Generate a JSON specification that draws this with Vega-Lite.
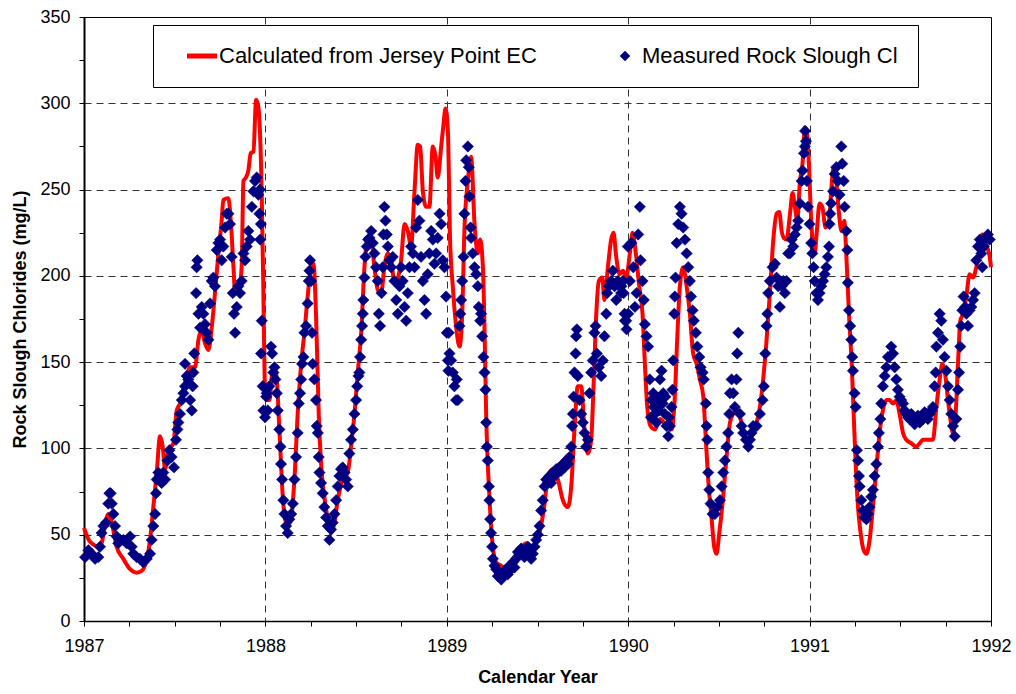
{
"$schema": "https://vega.github.io/schema/vega-lite/v6.json",
"width": 907, "height": 604,
"autosize": "none",
"padding": {"left": 84, "top": 17, "right": 25, "bottom": 73},
"background": "white",
"config": {"font": "Liberation Sans", "view": {"stroke": "black", "strokeWidth": 1}},
"datasets": {
"calc": [
{"t":1987.000,"v":54},{"t":1987.033,"v":46},{"t":1987.088,"v":43},{"t":1987.134,"v":62},{"t":1987.153,"v":57},{"t":1987.180,"v":43},{"t":1987.217,"v":36},{"t":1987.254,"v":30},{"t":1987.290,"v":28},{"t":1987.318,"v":29},{"t":1987.346,"v":36},{"t":1987.364,"v":47},{"t":1987.382,"v":66},{"t":1987.401,"v":86},{"t":1987.419,"v":107},{"t":1987.434,"v":101},{"t":1987.447,"v":88},{"t":1987.465,"v":99},{"t":1987.493,"v":103},{"t":1987.511,"v":122},{"t":1987.529,"v":126},{"t":1987.548,"v":134},{"t":1987.566,"v":142},{"t":1987.585,"v":147},{"t":1987.612,"v":147},{"t":1987.631,"v":163},{"t":1987.649,"v":169},{"t":1987.667,"v":161},{"t":1987.686,"v":157},{"t":1987.704,"v":170},{"t":1987.722,"v":190},{"t":1987.741,"v":213},{"t":1987.759,"v":232},{"t":1987.768,"v":244},{"t":1987.796,"v":245},{"t":1987.809,"v":232},{"t":1987.824,"v":205},{"t":1987.833,"v":190},{"t":1987.851,"v":190},{"t":1987.869,"v":205},{"t":1987.879,"v":255},{"t":1987.893,"v":257},{"t":1987.906,"v":261},{"t":1987.919,"v":271},{"t":1987.934,"v":272},{"t":1987.949,"v":302},{"t":1987.961,"v":298},{"t":1987.980,"v":246},{"t":1987.989,"v":190},{"t":1987.996,"v":140},{"t":1988.004,"v":128},
{"t":1988.022,"v":128},{"t":1988.040,"v":145},{"t":1988.059,"v":144},{"t":1988.077,"v":111},{"t":1988.096,"v":72},{"t":1988.114,"v":57},{"t":1988.136,"v":57},{"t":1988.160,"v":82},{"t":1988.178,"v":120},{"t":1988.197,"v":149},{"t":1988.215,"v":167},{"t":1988.233,"v":188},{"t":1988.252,"v":205},{"t":1988.265,"v":207},{"t":1988.279,"v":178},{"t":1988.294,"v":120},{"t":1988.307,"v":91},{"t":1988.325,"v":72},{"t":1988.344,"v":59},{"t":1988.362,"v":51},{"t":1988.381,"v":57},{"t":1988.399,"v":70},{"t":1988.426,"v":82},{"t":1988.454,"v":86},{"t":1988.472,"v":101},{"t":1988.491,"v":120},{"t":1988.509,"v":144},{"t":1988.528,"v":167},{"t":1988.546,"v":205},{"t":1988.564,"v":222},{"t":1988.583,"v":221},{"t":1988.601,"v":205},{"t":1988.619,"v":192},{"t":1988.638,"v":190},{"t":1988.656,"v":205},{"t":1988.675,"v":213},{"t":1988.693,"v":209},{"t":1988.711,"v":197},{"t":1988.730,"v":199},{"t":1988.748,"v":209},{"t":1988.767,"v":230},{"t":1988.785,"v":226},{"t":1988.803,"v":217},{"t":1988.822,"v":249},{"t":1988.840,"v":276},{"t":1988.853,"v":275},{"t":1988.868,"v":249},{"t":1988.886,"v":240},{"t":1988.904,"v":240},{"t":1988.923,"v":275},{"t":1988.938,"v":269},{"t":1988.950,"v":257},{"t":1988.969,"v":275},{"t":1988.980,"v":286},{"t":1988.993,"v":297},
{"t":1989.006,"v":284},{"t":1989.018,"v":221},{"t":1989.033,"v":194},{"t":1989.051,"v":171},{"t":1989.070,"v":159},{"t":1989.085,"v":178},{"t":1989.097,"v":226},{"t":1989.116,"v":255},{"t":1989.134,"v":269},{"t":1989.153,"v":230},{"t":1989.171,"v":213},{"t":1989.184,"v":221},{"t":1989.199,"v":205},{"t":1989.208,"v":169},{"t":1989.217,"v":120},{"t":1989.235,"v":72},{"t":1989.254,"v":43},{"t":1989.272,"v":34},{"t":1989.300,"v":32},{"t":1989.327,"v":30},{"t":1989.364,"v":36},{"t":1989.401,"v":41},{"t":1989.438,"v":45},{"t":1989.474,"v":43},{"t":1989.511,"v":51},{"t":1989.539,"v":68},{"t":1989.557,"v":84},{"t":1989.585,"v":88},{"t":1989.612,"v":82},{"t":1989.640,"v":70},{"t":1989.667,"v":66},{"t":1989.686,"v":78},{"t":1989.704,"v":111},{"t":1989.722,"v":136},{"t":1989.741,"v":136},{"t":1989.759,"v":111},{"t":1989.778,"v":97},{"t":1989.796,"v":105},{"t":1989.809,"v":136},{"t":1989.824,"v":178},{"t":1989.838,"v":197},{"t":1989.857,"v":199},{"t":1989.869,"v":186},{"t":1989.888,"v":205},{"t":1989.906,"v":221},{"t":1989.919,"v":225},{"t":1989.934,"v":211},{"t":1989.952,"v":201},{"t":1989.971,"v":203},{"t":1989.989,"v":199},
{"t":1990.009,"v":213},{"t":1990.024,"v":225},{"t":1990.042,"v":213},{"t":1990.061,"v":194},{"t":1990.079,"v":178},{"t":1990.092,"v":149},{"t":1990.105,"v":124},{"t":1990.123,"v":113},{"t":1990.147,"v":111},{"t":1990.175,"v":117},{"t":1990.211,"v":113},{"t":1990.239,"v":111},{"t":1990.257,"v":130},{"t":1990.270,"v":163},{"t":1990.285,"v":194},{"t":1990.303,"v":205},{"t":1990.322,"v":194},{"t":1990.340,"v":178},{"t":1990.358,"v":155},{"t":1990.377,"v":149},{"t":1990.395,"v":140},{"t":1990.414,"v":130},{"t":1990.428,"v":105},{"t":1990.441,"v":82},{"t":1990.460,"v":59},{"t":1990.474,"v":43},{"t":1990.487,"v":39},{"t":1990.502,"v":51},{"t":1990.520,"v":68},{"t":1990.539,"v":91},{"t":1990.561,"v":115},{"t":1990.579,"v":120},{"t":1990.597,"v":122},{"t":1990.625,"v":115},{"t":1990.653,"v":105},{"t":1990.680,"v":107},{"t":1990.708,"v":115},{"t":1990.726,"v":124},{"t":1990.744,"v":140},{"t":1990.763,"v":163},{"t":1990.781,"v":190},{"t":1990.800,"v":221},{"t":1990.818,"v":236},{"t":1990.833,"v":237},{"t":1990.846,"v":226},{"t":1990.858,"v":222},{"t":1990.873,"v":221},{"t":1990.892,"v":236},{"t":1990.906,"v":248},{"t":1990.919,"v":240},{"t":1990.932,"v":232},{"t":1990.947,"v":255},{"t":1990.961,"v":265},{"t":1990.974,"v":286},{"t":1990.985,"v":284},{"t":1990.996,"v":265},
{"t":1991.009,"v":232},{"t":1991.028,"v":213},{"t":1991.040,"v":226},{"t":1991.055,"v":242},{"t":1991.070,"v":240},{"t":1991.088,"v":228},{"t":1991.107,"v":232},{"t":1991.119,"v":249},{"t":1991.132,"v":263},{"t":1991.147,"v":255},{"t":1991.162,"v":236},{"t":1991.176,"v":226},{"t":1991.191,"v":232},{"t":1991.202,"v":213},{"t":1991.217,"v":178},{"t":1991.232,"v":149},{"t":1991.243,"v":120},{"t":1991.254,"v":91},{"t":1991.267,"v":66},{"t":1991.279,"v":53},{"t":1991.298,"v":41},{"t":1991.313,"v":39},{"t":1991.331,"v":47},{"t":1991.349,"v":66},{"t":1991.368,"v":88},{"t":1991.386,"v":109},{"t":1991.404,"v":122},{"t":1991.423,"v":128},{"t":1991.441,"v":128},{"t":1991.460,"v":126},{"t":1991.478,"v":128},{"t":1991.496,"v":120},{"t":1991.515,"v":109},{"t":1991.533,"v":105},{"t":1991.561,"v":103},{"t":1991.588,"v":101},{"t":1991.607,"v":103},{"t":1991.625,"v":105},{"t":1991.653,"v":105},{"t":1991.680,"v":105},{"t":1991.699,"v":124},{"t":1991.717,"v":140},{"t":1991.732,"v":149},{"t":1991.746,"v":144},{"t":1991.763,"v":128},{"t":1991.776,"v":117},{"t":1991.790,"v":109},{"t":1991.805,"v":120},{"t":1991.818,"v":149},{"t":1991.831,"v":174},{"t":1991.846,"v":178},{"t":1991.864,"v":188},{"t":1991.882,"v":201},{"t":1991.901,"v":199},{"t":1991.919,"v":205},{"t":1991.938,"v":215},{"t":1991.952,"v":224},{"t":1991.965,"v":222},{"t":1991.978,"v":217},{"t":1991.993,"v":211},{"t":1992.000,"v":205}
],
"meas": [
{"t":1987.006,"v":37},{"t":1987.024,"v":41},{"t":1987.042,"v":39},{"t":1987.061,"v":36},{"t":1987.079,"v":37},{"t":1987.088,"v":43},{"t":1987.097,"v":51},{"t":1987.107,"v":55},{"t":1987.121,"v":57},{"t":1987.134,"v":68},{"t":1987.140,"v":74},{"t":1987.147,"v":74},{"t":1987.153,"v":68},{"t":1987.162,"v":62},{"t":1987.171,"v":55},{"t":1987.180,"v":49},{"t":1987.189,"v":45},{"t":1987.199,"v":47},{"t":1987.217,"v":47},{"t":1987.235,"v":45},{"t":1987.254,"v":49},{"t":1987.263,"v":43},{"t":1987.272,"v":39},{"t":1987.290,"v":37},{"t":1987.309,"v":36},{"t":1987.327,"v":34},{"t":1987.346,"v":36},{"t":1987.364,"v":39},{"t":1987.373,"v":47},{"t":1987.382,"v":55},{"t":1987.392,"v":62},{"t":1987.397,"v":74},{"t":1987.401,"v":82},{"t":1987.410,"v":86},{"t":1987.419,"v":84},{"t":1987.428,"v":80},{"t":1987.437,"v":86},{"t":1987.447,"v":82},{"t":1987.460,"v":93},{"t":1987.471,"v":99},{"t":1987.483,"v":95},{"t":1987.496,"v":89},{"t":1987.507,"v":105},{"t":1987.515,"v":111},{"t":1987.520,"v":115},{"t":1987.529,"v":120},{"t":1987.539,"v":128},{"t":1987.548,"v":132},{"t":1987.557,"v":136},{"t":1987.557,"v":149},{"t":1987.566,"v":142},{"t":1987.575,"v":140},{"t":1987.585,"v":128},{"t":1987.594,"v":122},{"t":1987.599,"v":136},{"t":1987.603,"v":144},{"t":1987.608,"v":155},{"t":1987.618,"v":190},{"t":1987.621,"v":205},{"t":1987.625,"v":209},{"t":1987.631,"v":178},{"t":1987.640,"v":170},{"t":1987.649,"v":182},{"t":1987.658,"v":178},{"t":1987.667,"v":172},{"t":1987.676,"v":167},{"t":1987.686,"v":163},{"t":1987.695,"v":184},{"t":1987.704,"v":197},{"t":1987.713,"v":199},{"t":1987.722,"v":194},{"t":1987.732,"v":215},{"t":1987.741,"v":219},{"t":1987.750,"v":221},{"t":1987.759,"v":209},{"t":1987.768,"v":217},{"t":1987.778,"v":228},{"t":1987.787,"v":236},{"t":1987.796,"v":236},{"t":1987.805,"v":230},{"t":1987.814,"v":211},{"t":1987.820,"v":190},{"t":1987.827,"v":178},{"t":1987.833,"v":167},{"t":1987.842,"v":182},{"t":1987.851,"v":194},{"t":1987.860,"v":190},{"t":1987.869,"v":197},{"t":1987.879,"v":213},{"t":1987.888,"v":209},{"t":1987.897,"v":217},{"t":1987.906,"v":226},{"t":1987.915,"v":221},{"t":1987.925,"v":240},{"t":1987.934,"v":249},{"t":1987.943,"v":255},{"t":1987.952,"v":257},{"t":1987.961,"v":247},{"t":1987.967,"v":236},{"t":1987.970,"v":250},{"t":1987.971,"v":221},{"t":1987.975,"v":230},{"t":1987.976,"v":155},{"t":1987.980,"v":174},{"t":1987.985,"v":136},{"t":1987.989,"v":122},{"t":1987.998,"v":118},
{"t":1988.004,"v":130},{"t":1988.007,"v":132},{"t":1988.013,"v":122},{"t":1988.022,"v":136},{"t":1988.031,"v":159},{"t":1988.037,"v":155},{"t":1988.044,"v":144},{"t":1988.050,"v":147},{"t":1988.055,"v":140},{"t":1988.063,"v":132},{"t":1988.068,"v":122},{"t":1988.077,"v":111},{"t":1988.083,"v":101},{"t":1988.086,"v":91},{"t":1988.092,"v":82},{"t":1988.099,"v":70},{"t":1988.105,"v":62},{"t":1988.114,"v":55},{"t":1988.123,"v":51},{"t":1988.132,"v":59},{"t":1988.142,"v":62},{"t":1988.151,"v":68},{"t":1988.160,"v":82},{"t":1988.169,"v":95},{"t":1988.178,"v":109},{"t":1988.184,"v":126},{"t":1988.191,"v":132},{"t":1988.197,"v":140},{"t":1988.202,"v":149},{"t":1988.210,"v":153},{"t":1988.215,"v":167},{"t":1988.224,"v":171},{"t":1988.233,"v":184},{"t":1988.239,"v":197},{"t":1988.243,"v":203},{"t":1988.246,"v":209},{"t":1988.252,"v":197},{"t":1988.257,"v":167},{"t":1988.261,"v":149},{"t":1988.270,"v":140},{"t":1988.279,"v":128},{"t":1988.283,"v":113},{"t":1988.289,"v":109},{"t":1988.294,"v":95},{"t":1988.298,"v":86},{"t":1988.307,"v":80},{"t":1988.316,"v":74},{"t":1988.325,"v":66},{"t":1988.335,"v":60},{"t":1988.344,"v":55},{"t":1988.353,"v":47},{"t":1988.362,"v":53},{"t":1988.371,"v":57},{"t":1988.381,"v":62},{"t":1988.390,"v":70},{"t":1988.399,"v":78},{"t":1988.408,"v":84},{"t":1988.417,"v":88},{"t":1988.426,"v":89},{"t":1988.436,"v":86},{"t":1988.445,"v":82},{"t":1988.454,"v":78},{"t":1988.463,"v":97},{"t":1988.472,"v":105},{"t":1988.482,"v":111},{"t":1988.491,"v":120},{"t":1988.500,"v":128},{"t":1988.506,"v":136},{"t":1988.513,"v":142},{"t":1988.518,"v":144},{"t":1988.522,"v":153},{"t":1988.528,"v":163},{"t":1988.533,"v":171},{"t":1988.537,"v":178},{"t":1988.540,"v":186},{"t":1988.546,"v":199},{"t":1988.551,"v":211},{"t":1988.559,"v":217},{"t":1988.566,"v":221},{"t":1988.574,"v":222},{"t":1988.583,"v":226},{"t":1988.592,"v":219},{"t":1988.601,"v":213},{"t":1988.610,"v":205},{"t":1988.619,"v":197},{"t":1988.625,"v":178},{"t":1988.632,"v":171},{"t":1988.640,"v":190},{"t":1988.647,"v":205},{"t":1988.651,"v":224},{"t":1988.656,"v":240},{"t":1988.662,"v":232},{"t":1988.669,"v":224},{"t":1988.675,"v":217},{"t":1988.684,"v":209},{"t":1988.693,"v":205},{"t":1988.702,"v":211},{"t":1988.711,"v":197},{"t":1988.721,"v":186},{"t":1988.730,"v":178},{"t":1988.739,"v":194},{"t":1988.748,"v":205},{"t":1988.757,"v":197},{"t":1988.767,"v":182},{"t":1988.776,"v":174},{"t":1988.785,"v":190},{"t":1988.794,"v":205},{"t":1988.803,"v":217},{"t":1988.813,"v":213},{"t":1988.822,"v":205},{"t":1988.831,"v":228},{"t":1988.840,"v":244},{"t":1988.849,"v":232},{"t":1988.858,"v":211},{"t":1988.868,"v":197},{"t":1988.877,"v":186},{"t":1988.886,"v":178},{"t":1988.895,"v":201},{"t":1988.904,"v":213},{"t":1988.914,"v":226},{"t":1988.923,"v":221},{"t":1988.932,"v":207},{"t":1988.941,"v":213},{"t":1988.950,"v":222},{"t":1988.960,"v":236},{"t":1988.969,"v":230},{"t":1988.978,"v":209},{"t":1988.987,"v":205},{"t":1988.996,"v":188},
{"t":1989.000,"v":167},{"t":1989.006,"v":151},{"t":1989.009,"v":145},{"t":1989.011,"v":167},{"t":1989.015,"v":155},{"t":1989.024,"v":151},{"t":1989.033,"v":144},{"t":1989.042,"v":136},{"t":1989.051,"v":128},{"t":1989.055,"v":140},{"t":1989.061,"v":128},{"t":1989.070,"v":171},{"t":1989.074,"v":178},{"t":1989.079,"v":186},{"t":1989.085,"v":197},{"t":1989.092,"v":211},{"t":1989.097,"v":236},{"t":1989.103,"v":255},{"t":1989.107,"v":267},{"t":1989.116,"v":275},{"t":1989.121,"v":263},{"t":1989.125,"v":246},{"t":1989.131,"v":228},{"t":1989.134,"v":222},{"t":1989.143,"v":213},{"t":1989.153,"v":205},{"t":1989.162,"v":201},{"t":1989.171,"v":194},{"t":1989.176,"v":182},{"t":1989.184,"v":174},{"t":1989.189,"v":178},{"t":1989.195,"v":165},{"t":1989.202,"v":153},{"t":1989.208,"v":144},{"t":1989.213,"v":134},{"t":1989.217,"v":115},{"t":1989.221,"v":101},{"t":1989.226,"v":93},{"t":1989.232,"v":78},{"t":1989.235,"v":70},{"t":1989.239,"v":59},{"t":1989.244,"v":51},{"t":1989.250,"v":43},{"t":1989.254,"v":36},{"t":1989.263,"v":32},{"t":1989.272,"v":30},{"t":1989.281,"v":26},{"t":1989.290,"v":28},{"t":1989.300,"v":24},{"t":1989.309,"v":26},{"t":1989.318,"v":29},{"t":1989.327,"v":30},{"t":1989.336,"v":27},{"t":1989.346,"v":32},{"t":1989.355,"v":30},{"t":1989.364,"v":34},{"t":1989.373,"v":31},{"t":1989.382,"v":36},{"t":1989.392,"v":40},{"t":1989.401,"v":39},{"t":1989.410,"v":42},{"t":1989.419,"v":41},{"t":1989.428,"v":37},{"t":1989.438,"v":39},{"t":1989.447,"v":43},{"t":1989.456,"v":41},{"t":1989.465,"v":36},{"t":1989.474,"v":39},{"t":1989.484,"v":43},{"t":1989.493,"v":47},{"t":1989.502,"v":50},{"t":1989.511,"v":55},{"t":1989.520,"v":64},{"t":1989.529,"v":70},{"t":1989.539,"v":78},{"t":1989.548,"v":82},{"t":1989.557,"v":80},{"t":1989.566,"v":84},{"t":1989.575,"v":80},{"t":1989.585,"v":86},{"t":1989.594,"v":84},{"t":1989.603,"v":88},{"t":1989.612,"v":86},{"t":1989.621,"v":89},{"t":1989.630,"v":87},{"t":1989.640,"v":91},{"t":1989.649,"v":89},{"t":1989.658,"v":93},{"t":1989.667,"v":91},{"t":1989.676,"v":95},{"t":1989.686,"v":101},{"t":1989.691,"v":113},{"t":1989.695,"v":120},{"t":1989.699,"v":130},{"t":1989.704,"v":144},{"t":1989.710,"v":155},{"t":1989.713,"v":165},{"t":1989.717,"v":169},{"t":1989.722,"v":142},{"t":1989.732,"v":128},{"t":1989.741,"v":120},{"t":1989.750,"v":115},{"t":1989.759,"v":109},{"t":1989.768,"v":101},{"t":1989.778,"v":105},{"t":1989.787,"v":132},{"t":1989.796,"v":144},{"t":1989.805,"v":151},{"t":1989.814,"v":167},{"t":1989.820,"v":171},{"t":1989.827,"v":155},{"t":1989.838,"v":147},{"t":1989.851,"v":142},{"t":1989.860,"v":151},{"t":1989.869,"v":165},{"t":1989.879,"v":178},{"t":1989.884,"v":190},{"t":1989.893,"v":194},{"t":1989.906,"v":197},{"t":1989.915,"v":203},{"t":1989.925,"v":194},{"t":1989.934,"v":186},{"t":1989.943,"v":197},{"t":1989.952,"v":194},{"t":1989.961,"v":190},{"t":1989.971,"v":197},{"t":1989.980,"v":178},{"t":1989.989,"v":174},{"t":1989.998,"v":217},
{"t":1989.963,"v":194},{"t":1989.975,"v":190},{"t":1989.982,"v":174},{"t":1989.991,"v":169},{"t":1990.000,"v":178},{"t":1990.009,"v":197},{"t":1990.018,"v":219},{"t":1990.028,"v":205},{"t":1990.037,"v":182},{"t":1990.046,"v":190},{"t":1990.055,"v":224},{"t":1990.064,"v":240},{"t":1990.068,"v":209},{"t":1990.079,"v":197},{"t":1990.086,"v":186},{"t":1990.092,"v":172},{"t":1990.101,"v":165},{"t":1990.110,"v":159},{"t":1990.119,"v":140},{"t":1990.125,"v":118},{"t":1990.129,"v":128},{"t":1990.138,"v":132},{"t":1990.140,"v":124},{"t":1990.147,"v":120},{"t":1990.152,"v":130},{"t":1990.156,"v":115},{"t":1990.165,"v":128},{"t":1990.170,"v":122},{"t":1990.175,"v":140},{"t":1990.184,"v":145},{"t":1990.190,"v":126},{"t":1990.193,"v":132},{"t":1990.202,"v":120},{"t":1990.205,"v":130},{"t":1990.211,"v":113},{"t":1990.221,"v":107},{"t":1990.225,"v":118},{"t":1990.230,"v":113},{"t":1990.239,"v":124},{"t":1990.244,"v":134},{"t":1990.248,"v":151},{"t":1990.254,"v":178},{"t":1990.257,"v":188},{"t":1990.261,"v":199},{"t":1990.267,"v":219},{"t":1990.276,"v":230},{"t":1990.285,"v":240},{"t":1990.294,"v":236},{"t":1990.303,"v":228},{"t":1990.313,"v":221},{"t":1990.322,"v":213},{"t":1990.331,"v":205},{"t":1990.340,"v":197},{"t":1990.346,"v":188},{"t":1990.355,"v":180},{"t":1990.362,"v":174},{"t":1990.373,"v":167},{"t":1990.381,"v":159},{"t":1990.392,"v":153},{"t":1990.399,"v":147},{"t":1990.410,"v":144},{"t":1990.417,"v":140},{"t":1990.428,"v":126},{"t":1990.432,"v":113},{"t":1990.436,"v":105},{"t":1990.441,"v":86},{"t":1990.447,"v":76},{"t":1990.454,"v":68},{"t":1990.465,"v":62},{"t":1990.478,"v":62},{"t":1990.491,"v":66},{"t":1990.506,"v":70},{"t":1990.515,"v":78},{"t":1990.524,"v":86},{"t":1990.533,"v":93},{"t":1990.542,"v":101},{"t":1990.551,"v":109},{"t":1990.557,"v":120},{"t":1990.561,"v":132},{"t":1990.570,"v":140},{"t":1990.579,"v":132},{"t":1990.588,"v":124},{"t":1990.597,"v":140},{"t":1990.601,"v":155},{"t":1990.607,"v":167},{"t":1990.616,"v":120},{"t":1990.625,"v":113},{"t":1990.634,"v":109},{"t":1990.649,"v":105},{"t":1990.662,"v":101},{"t":1990.671,"v":105},{"t":1990.680,"v":109},{"t":1990.689,"v":113},{"t":1990.708,"v":113},{"t":1990.726,"v":120},{"t":1990.741,"v":128},{"t":1990.748,"v":136},{"t":1990.756,"v":155},{"t":1990.763,"v":171},{"t":1990.767,"v":178},{"t":1990.772,"v":190},{"t":1990.781,"v":197},{"t":1990.796,"v":205},{"t":1990.809,"v":207},{"t":1990.818,"v":199},{"t":1990.827,"v":194},{"t":1990.836,"v":182},{"t":1990.846,"v":194},{"t":1990.855,"v":197},{"t":1990.864,"v":190},{"t":1990.873,"v":197},{"t":1990.882,"v":213},{"t":1990.892,"v":213},{"t":1990.901,"v":221},{"t":1990.910,"v":217},{"t":1990.919,"v":224},{"t":1990.928,"v":228},{"t":1990.937,"v":232},{"t":1990.947,"v":242},{"t":1990.956,"v":255},{"t":1990.961,"v":261},{"t":1990.969,"v":271},{"t":1990.974,"v":275},{"t":1990.975,"v":284},{"t":1990.980,"v":278},
{"t":1990.985,"v":255},{"t":1990.991,"v":240},{"t":1991.000,"v":230},{"t":1991.009,"v":219},{"t":1991.015,"v":213},{"t":1991.022,"v":205},{"t":1991.028,"v":197},{"t":1991.037,"v":190},{"t":1991.046,"v":186},{"t":1991.055,"v":190},{"t":1991.064,"v":194},{"t":1991.074,"v":197},{"t":1991.083,"v":201},{"t":1991.092,"v":205},{"t":1991.101,"v":211},{"t":1991.107,"v":217},{"t":1991.110,"v":230},{"t":1991.114,"v":236},{"t":1991.119,"v":242},{"t":1991.129,"v":249},{"t":1991.138,"v":259},{"t":1991.147,"v":263},{"t":1991.156,"v":255},{"t":1991.165,"v":247},{"t":1991.175,"v":275},{"t":1991.180,"v":265},{"t":1991.188,"v":255},{"t":1991.193,"v":240},{"t":1991.202,"v":226},{"t":1991.208,"v":215},{"t":1991.211,"v":196},{"t":1991.217,"v":180},{"t":1991.224,"v":171},{"t":1991.230,"v":163},{"t":1991.235,"v":153},{"t":1991.239,"v":145},{"t":1991.248,"v":132},{"t":1991.254,"v":124},{"t":1991.261,"v":99},{"t":1991.267,"v":93},{"t":1991.272,"v":84},{"t":1991.276,"v":78},{"t":1991.285,"v":70},{"t":1991.294,"v":64},{"t":1991.303,"v":60},{"t":1991.313,"v":59},{"t":1991.322,"v":62},{"t":1991.331,"v":66},{"t":1991.340,"v":72},{"t":1991.349,"v":76},{"t":1991.358,"v":84},{"t":1991.368,"v":91},{"t":1991.377,"v":101},{"t":1991.382,"v":109},{"t":1991.390,"v":117},{"t":1991.395,"v":126},{"t":1991.404,"v":136},{"t":1991.414,"v":142},{"t":1991.423,"v":147},{"t":1991.432,"v":153},{"t":1991.441,"v":153},{"t":1991.450,"v":159},{"t":1991.460,"v":155},{"t":1991.469,"v":147},{"t":1991.478,"v":140},{"t":1991.487,"v":134},{"t":1991.496,"v":130},{"t":1991.505,"v":128},{"t":1991.515,"v":126},{"t":1991.524,"v":122},{"t":1991.533,"v":120},{"t":1991.542,"v":118},{"t":1991.551,"v":117},{"t":1991.561,"v":120},{"t":1991.570,"v":118},{"t":1991.579,"v":114},{"t":1991.588,"v":117},{"t":1991.597,"v":119},{"t":1991.607,"v":115},{"t":1991.616,"v":118},{"t":1991.625,"v":117},{"t":1991.634,"v":121},{"t":1991.643,"v":120},{"t":1991.652,"v":117},{"t":1991.662,"v":120},{"t":1991.671,"v":122},{"t":1991.680,"v":124},{"t":1991.689,"v":136},{"t":1991.695,"v":144},{"t":1991.699,"v":159},{"t":1991.708,"v":167},{"t":1991.717,"v":178},{"t":1991.726,"v":174},{"t":1991.735,"v":163},{"t":1991.744,"v":153},{"t":1991.754,"v":145},{"t":1991.763,"v":136},{"t":1991.772,"v":128},{"t":1991.781,"v":120},{"t":1991.790,"v":113},{"t":1991.800,"v":107},{"t":1991.809,"v":117},{"t":1991.818,"v":134},{"t":1991.824,"v":144},{"t":1991.831,"v":159},{"t":1991.836,"v":171},{"t":1991.842,"v":180},{"t":1991.849,"v":188},{"t":1991.857,"v":182},{"t":1991.864,"v":178},{"t":1991.873,"v":171},{"t":1991.882,"v":180},{"t":1991.892,"v":182},{"t":1991.901,"v":186},{"t":1991.910,"v":190},{"t":1991.919,"v":209},{"t":1991.928,"v":217},{"t":1991.938,"v":221},{"t":1991.947,"v":213},{"t":1991.952,"v":205},{"t":1991.960,"v":217},{"t":1991.971,"v":222},{"t":1991.983,"v":224},{"t":1991.993,"v":221}
]
},
"layer": [
{
"data": {"name": "calc"},
"mark": {"type": "line", "strokeWidth": 4, "interpolate": "monotone"},
"encoding": {
"x": {"field": "t", "type": "quantitative",
 "scale": {"domain": [1987, 1992], "nice": false, "zero": false},
 "axis": {"title": "Calendar Year",
  "values": [1987,1987.25,1987.5,1987.75,1988,1988.25,1988.5,1988.75,1989,1989.25,1989.5,1989.75,1990,1990.25,1990.5,1990.75,1991,1991.25,1991.5,1991.75,1992],
  "labelExpr": "datum.value % 1 === 0 ? format(datum.value, 'd') : ''",
  "labelFontSize": 18, "labelColor": "black", "labelPadding": 11, "labelOverlap": false, "labelFlush": false,
  "titleFontSize": 18, "titleFontWeight": "bold", "titleColor": "black", "titlePadding": 13,
  "tickColor": "black", "tickSize": 5, "domainColor": "black", "domainWidth": 1.5,
  "grid": true, "gridColor": "#333333", "gridDash": [7, 5], "gridWidth": 1,
  "gridOpacity": {"condition": {"test": "datum.value % 1 === 0 && datum.value > 1987 && datum.value < 1992", "value": 1}, "value": 0}}},
"y": {"field": "v", "type": "quantitative",
 "scale": {"domain": [0, 350], "nice": false},
 "axis": {"title": "Rock Slough Chlorides (mg/L)",
  "values": [0,25,50,75,100,125,150,175,200,225,250,275,300,325,350],
  "labelExpr": "datum.value % 50 === 0 ? datum.label : ''",
  "labelFontSize": 18, "labelColor": "black", "labelPadding": 9,
  "titleFontSize": 18, "titleFontWeight": "bold", "titleColor": "black", "titlePadding": 10,
  "tickColor": "black", "tickSize": 5, "domainColor": "black", "domainWidth": 2,
  "grid": true, "gridColor": "#333333", "gridDash": [7, 5], "gridWidth": 1,
  "gridOpacity": {"condition": {"test": "datum.value % 50 === 0 && datum.value > 0 && datum.value < 350", "value": 1}, "value": 0}}},
"color": {"datum": "Calculated from Jersey Point EC", "type": "nominal",
 "scale": {"domain": ["Calculated from Jersey Point EC", "Measured Rock Slough Cl"], "range": ["#ff0000", "#000080"]},
 "legend": {"orient": "none", "legendX": 69, "legendY": 8, "direction": "horizontal", "title": null,
  "fillColor": "white", "strokeColor": "black", "padding": 20,
  "symbolSize": 900, "symbolOffset": 18, "labelOffset": 6, "columnPadding": 59,
  "labelFontSize": 22, "labelColor": "black", "labelLimit": 500, "symbolStrokeWidth": 5,
  "encode": {"symbols": {"update": {
   "shape": {"signal": "datum.value === 'Calculated from Jersey Point EC' ? 'stroke' : 'diamond'"},
   "size": {"signal": "datum.value === 'Calculated from Jersey Point EC' ? 900 : 100"},
   "fill": {"signal": "datum.value === 'Calculated from Jersey Point EC' ? 'transparent' : '#000080'"},
   "stroke": {"signal": "datum.value === 'Calculated from Jersey Point EC' ? '#ff0000' : '#000080'"},
   "strokeWidth": {"signal": "datum.value === 'Calculated from Jersey Point EC' ? 5 : 0.5"},
   "opacity": {"value": 1}}}}}}
}
},
{
"data": {"name": "meas"},
"mark": {"type": "point", "shape": "diamond", "filled": true, "size": 130, "opacity": 1, "stroke": "#000080", "strokeWidth": 0.5},
"encoding": {
"x": {"field": "t", "type": "quantitative"},
"y": {"field": "v", "type": "quantitative"},
"color": {"datum": "Measured Rock Slough Cl", "type": "nominal"}
}
}
]
}
